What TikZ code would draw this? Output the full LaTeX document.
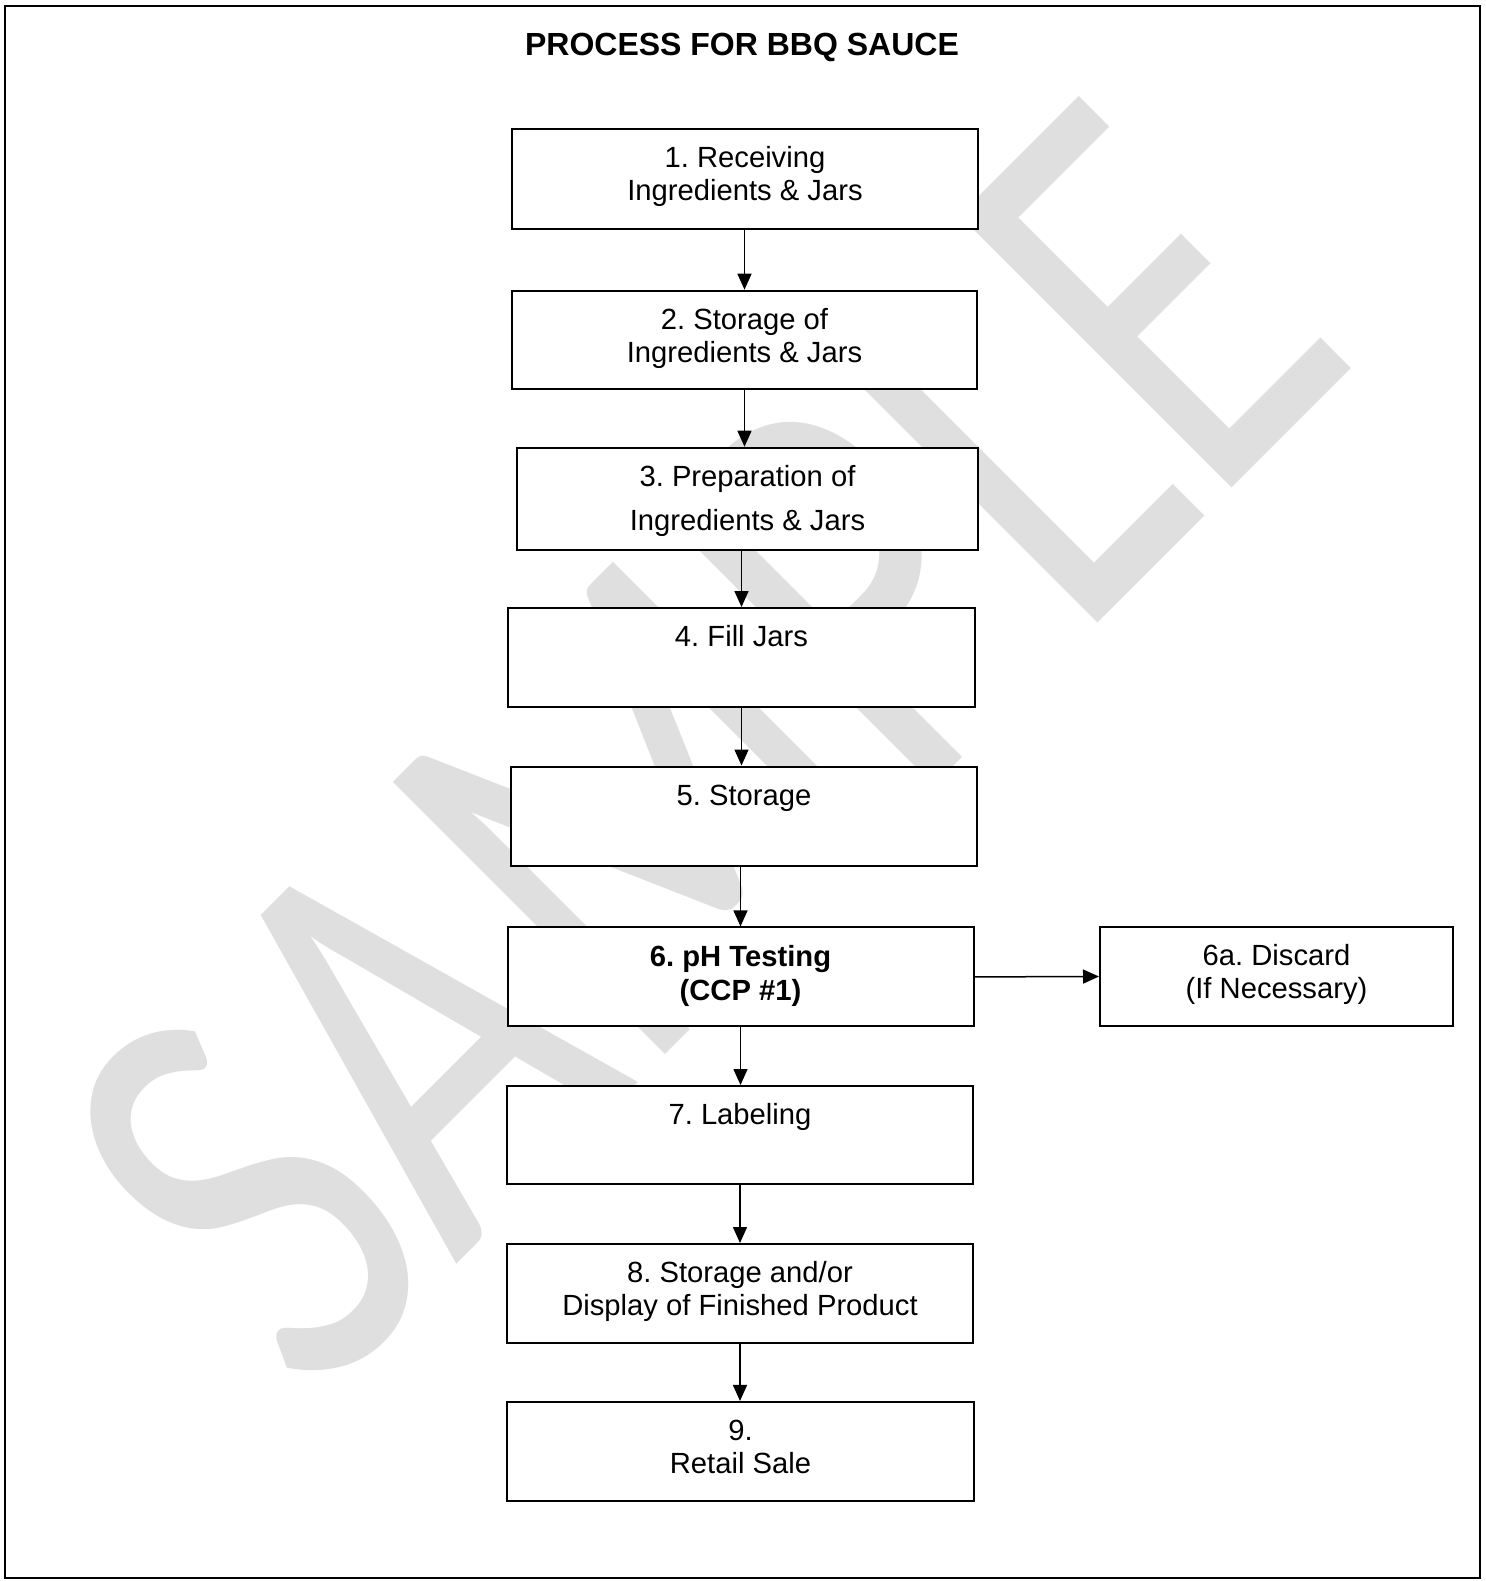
\documentclass[tikz,border=0pt]{standalone}
\usepackage{fontspec}
\setmainfont{Liberation Sans}
\newfontfamily\wmfont{Carlito}
\usetikzlibrary{arrows.meta}
\definecolor{wm}{RGB}{223,223,223}
\frenchspacing
\begin{document}
\begin{tikzpicture}[x=0.5pt,y=-0.5pt,
  box/.style={draw=black, line width=1pt, fill=white, rectangle, inner sep=0pt},
  lbl/.style={anchor=base, align=center, inner sep=0pt, font=\fontsize{14.6pt}{16.5pt}\selectfont},
  arr/.style={line width=0.75pt, -{Triangle[length=8pt,width=7pt]}}]
\useasboundingbox (0,0) rectangle (1486,1581);
\fill[white] (0,0) rectangle (1486,1581);
% watermark
\node[rotate=45, text=wm, inner sep=0pt, font=\wmfont\fontsize{300pt}{300pt}\selectfont] (wmk) at (702,746) {\scalebox{0.75}[1]{SAMPLE}};
% frame
\draw[line width=0.65pt] (5,6) rectangle (1480,1578);
% title
\node[anchor=base, inner sep=0pt, font=\fontsize{16pt}{19pt}\selectfont\bfseries] (title) at (742,55) {PROCESS FOR BBQ SAUCE};
% boxes
\node[box, minimum width=233pt,   minimum height=49.75pt] (b1)  at (745,178.75) {};
\node[box, minimum width=232.5pt, minimum height=49.15pt] (b2)  at (744.5,339.85) {};
\node[box, minimum width=230.5pt, minimum height=51.15pt] (b3)  at (747.5,498.85) {};
\node[box, minimum width=233.5pt, minimum height=49.5pt]  (b4)  at (741.5,657.5) {};
\node[box, minimum width=233pt,   minimum height=49.5pt]  (b5)  at (744,816) {};
\node[box, minimum width=233pt,   minimum height=49.5pt]  (b6)  at (740.5,976.9) {};
\node[box, minimum width=176.5pt, minimum height=49.5pt]  (b6a) at (1276.5,976.5) {};
\node[box, minimum width=233pt,   minimum height=49pt]    (b7)  at (740,1135) {};
\node[box, minimum width=233pt,   minimum height=49.5pt]  (b8)  at (740,1293.5) {};
\node[box, minimum width=233.5pt, minimum height=49.75pt] (b9)  at (740.5,1451.7) {};
% labels (base anchor = baseline of last line)
\node[lbl] (t1) at (745,200.7) {1. Receiving\\Ingredients \& Jars};
\node[lbl] (t2) at (744.5,362.4) {2. Storage of\\Ingredients \& Jars};
\node[lbl, font=\fontsize{14.6pt}{22pt}\selectfont] (t3) at (747.5,530.4) {3. Preparation of\\Ingredients \& Jars};
\node[lbl] (t4) at (741.5,646.5) {4. Fill Jars};
\node[lbl] (t5) at (744,805.3) {5. Storage};
\node[lbl, font=\fontsize{14.6pt}{17pt}\selectfont\bfseries] (t6) at (740.5,1000) {6. pH Testing\\(CCP \#1)};
\node[lbl] (t6a) at (1276.5,998.5) {6a. Discard\\(If Necessary)};
\node[lbl] (t7) at (740,1124.7) {7. Labeling};
\node[lbl] (t8) at (740,1315.7) {8. Storage and/or\\Display of Finished Product};
\node[lbl] (t9) at (740.5,1473.7) {9.\\Retail Sale};
% connectors
\draw[arr] (b2.north |- b1.south) -- (b2.north);
\draw[arr] (b2.south) -- (b2.south |- b3.north);
\draw[arr] (b4.north |- b3.south) -- (b4.north);
\draw[arr] (b4.south) -- (b4.south |- b5.north);
\draw[arr] (b6.north |- b5.south) -- (b6.north);
\draw[arr] (b6.south) -- (b6.south |- b7.north);
\draw[arr] (b7.south) -- (b7.south |- b8.north);
\draw[arr] (b8.south) -- (b8.south |- b9.north);
\draw[arr] (b6.east) -- (b6a.west);
\end{tikzpicture}
\end{document}
